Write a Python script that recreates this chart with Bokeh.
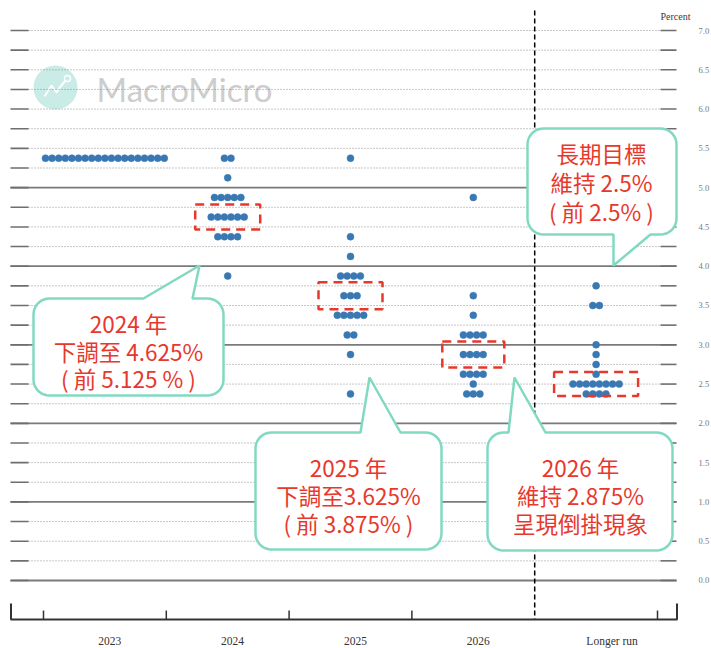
import numpy as np
from bokeh.plotting import figure
from bokeh.models import Range1d
from bokeh.core.properties import value
from bokeh.embed import file_html
from bokeh.resources import INLINE

# ---------------- data ----------------
categories = ["2023", "2024", "2025", "2026", "Longer run"]

rates_2023 = [5.375]
counts_2023 = [19]
rates_2024 = [5.375, 5.125, 4.875, 4.625, 4.375, 3.875]
counts_2024 = [2, 1, 5, 6, 4, 1]
rates_2025 = [5.375, 4.375, 4.125, 3.875, 3.625, 3.375, 3.125, 2.875, 2.375]
counts_2025 = [1, 1, 1, 4, 3, 5, 2, 1, 1]
rates_2026 = [4.875, 3.625, 3.375, 3.125, 2.875, 2.625, 2.5, 2.375]
counts_2026 = [1, 1, 1, 4, 4, 4, 1, 3]
rates_lr = [3.75, 3.5, 3.0, 2.875, 2.75, 2.625, 2.5, 2.375]
counts_lr = [1, 2, 1, 1, 1, 1, 8, 4]

tick_values = [0.0, 0.5, 1.0, 1.5, 2.0, 2.5, 3.0, 3.5, 4.0, 4.5, 5.0, 5.5, 6.0, 6.5, 7.0]
tick_labels = ["0.0", "0.5", "1.0", "1.5", "2.0", "2.5", "3.0", "3.5", "4.0", "4.5",
               "5.0", "5.5", "6.0", "6.5", "7.0"]
solid_levels = [0.0, 1.0, 2.0, 3.0, 4.0, 5.0]

callout_lr = ["長期目標", "維持 2.5%", "( 前 2.5% )"]
callout_2024 = ["2024 年", "下調至 4.625%", "( 前 5.125 % )"]
callout_2025 = ["2025 年", "下調至3.625%", "( 前 3.875% )"]
callout_2026 = ["2026 年", "維持 2.875%", "呈現倒掛現象"]

# ---------------- geometry helpers ----------------
W, H = 711, 648
OFF = 0
SX = 122.8      # px per category unit
SY = 78.57      # px per percent
X0 = 0.215


def px2x(px):
    return X0 + (px - 8) / SX


def py2y(py):
    return 7.0 - (py - 30) / SY


DOT = "#3a78b4"
RED = "#e8382c"
TEAL = "#82d9c2"
CJK = value("Noto Sans CJK TC")
SERIF = value("Liberation Serif")

p = figure(width=W, height=H,
           x_range=Range1d(px2x(OFF), px2x(OFF + W)),
           y_range=Range1d(py2y(OFF + H), py2y(OFF)),
           output_backend="svg", toolbar_location=None, min_border=0,
           x_axis_type=None, y_axis_type=None, outline_line_color=None,
           background_fill_color="white", border_fill_color="white")

# ---------------- watermark ----------------
p.scatter(x=[px2x(55)], y=[py2y(87)], size=44, marker="circle",
          fill_color="#c9ece6", line_color=None)
p.line(x=[px2x(44), px2x(51), px2x(56), px2x(60), px2x(65)],
       y=[py2y(96), py2y(85), py2y(92), py2y(86), py2y(80)],
       line_color="white", line_width=2)
p.scatter(x=[px2x(67)], y=[py2y(78)], size=6, marker="circle",
          fill_color=None, line_color="white", line_width=1.5)
p.text(x=[px2x(96)], y=[py2y(88)], text=["MacroMicro"], text_font=value("Lato"),
       text_font_size="33px", text_color="#cdcdcd", text_align="left",
       text_baseline="middle")

# ---------------- grid lines ----------------
grid_vals = [round(v * 0.25, 2) for v in range(0, 29)]
dotted = [v for v in grid_vals if v not in solid_levels]
p.segment(x0=px2x(28), x1=px2x(660), y0=dotted, y1=dotted,
          line_color="#8e8e8e", line_width=1, line_dash="1 2")
p.segment(x0=px2x(10), x1=px2x(676), y0=solid_levels, y1=solid_levels,
          line_color="#7a7a7a", line_width=1.8)
p.segment(x0=px2x(10), x1=px2x(28), y0=grid_vals, y1=grid_vals,
          line_color="#6e6e6e", line_width=1.6)
p.segment(x0=px2x(660), x1=px2x(676), y0=grid_vals, y1=grid_vals,
          line_color="#6e6e6e", line_width=1.6)

# y tick labels (right side)
p.text(x=[px2x(698)] * len(tick_values), y=tick_values, text=tick_labels,
       text_font=SERIF, text_font_size="8.5px", text_color="#777777",
       text_align="left", text_baseline="middle")
p.text(x=[px2x(675)], y=[py2y(16)], text=["Percent"], text_font=SERIF,
       text_font_size="10px", text_color="#3a3a3a", text_align="center",
       text_baseline="middle")

# ---------------- separator + bottom axis ----------------
sep_x = len(categories) - 0.5
p.segment(x0=[sep_x], x1=[sep_x], y0=[py2y(10)], y1=[py2y(619)],
          line_color="black", line_width=1.5, line_dash="5 3")
p.segment(x0=[px2x(10)], x1=[px2x(677)], y0=[py2y(619)], y1=[py2y(619)],
          line_color="#333333", line_width=2)
tick_x = [i + 0.5 for i in range(len(categories) + 1) if i + 0.5 != sep_x]
p.segment(x0=tick_x, x1=tick_x, y0=[py2y(619)] * len(tick_x), y1=[py2y(610)] * len(tick_x),
          line_color="#333333", line_width=1.5)
p.segment(x0=[px2x(10.5), px2x(676.5)], x1=[px2x(10.5), px2x(676.5)],
          y0=[py2y(619)] * 2, y1=[py2y(603)] * 2, line_color="#333333", line_width=2)

label_x = [i + 1 + (0.13 if c == "Longer run" else 0.04) for i, c in enumerate(categories)]
p.text(x=label_x, y=[py2y(640)] * len(categories), text=categories, text_font=SERIF,
       text_font_size="11.5px", text_color="#333333", text_align="center",
       text_baseline="middle")

# ---------------- dots ----------------
all_rates = [rates_2023, rates_2024, rates_2025, rates_2026, rates_lr]
all_counts = [counts_2023, counts_2024, counts_2025, counts_2026, counts_lr]
DX = 6.6 / SX
xs, ys = [], []
medians = []
for ci, (rates, counts) in enumerate(zip(all_rates, all_counts)):
    expanded = []
    for r, n in zip(rates, counts):
        for j in range(n):
            xs.append(ci + 1 + (j - (n - 1) / 2) * DX)
            ys.append(r)
        expanded += [r] * n
    medians.append(float(np.median(expanded)))
p.scatter(x=xs, y=ys, size=7, marker="circle", fill_color=DOT, line_color=DOT,
          line_width=0.5)

# median highlight boxes (not for 2023)
p.rect(x=[2, 3, 4, 5], y=medians[1:], width=[65, 64, 62, 84], height=[25, 27, 26, 24],
       width_units="screen", height_units="screen", fill_color=None,
       line_color=RED, line_width=2.5, line_dash="9 6")


# ---------------- callouts ----------------
def callout(x0, y0, x1, y1, r, top=None, bottom=None):
    pts = []

    def arc(cx, cy, a0, a1):
        for a in np.linspace(np.radians(a0), np.radians(a1), 10):
            pts.append((cx + r * np.cos(a), cy + r * np.sin(a)))

    arc(x0 + r, y0 + r, 180, 270)
    if top:
        pts.extend(top)
    arc(x1 - r, y0 + r, 270, 360)
    arc(x1 - r, y1 - r, 0, 90)
    if bottom:
        pts.extend(bottom)
    arc(x0 + r, y1 - r, 90, 180)
    p.patch(x=[px2x(a) for a, b in pts], y=[py2y(b) for a, b in pts],
            fill_color="white", line_color=TEAL, line_width=2.5)


def callout_text(cx, y_lines, lines):
    p.text(x=[px2x(cx)] * len(lines), y=[py2y(v) for v in y_lines], text=lines,
           text_font=CJK, text_font_size="22.5px", text_color=RED,
           text_align="center", text_baseline="middle")


callout(527, 128, 676, 234, 16, bottom=[(650, 234), (613, 265), (613, 234)])
callout_text(601, [152, 181, 210], callout_lr)

callout(33, 298, 223, 395, 16, top=[(143, 298), (199, 265), (192, 298)])
callout_text(128, [322, 350, 377], callout_2024)

callout(255, 432, 441, 549, 16, top=[(360, 432), (369, 377), (400, 432)])
callout_text(348, [466, 494, 522], callout_2025)

callout(487, 432, 672, 550, 16, top=[(508, 432), (514, 377), (545, 432)])
callout_text(580, [466, 494, 522], callout_2026)

open("out.html", "w").write(file_html(p, INLINE))
